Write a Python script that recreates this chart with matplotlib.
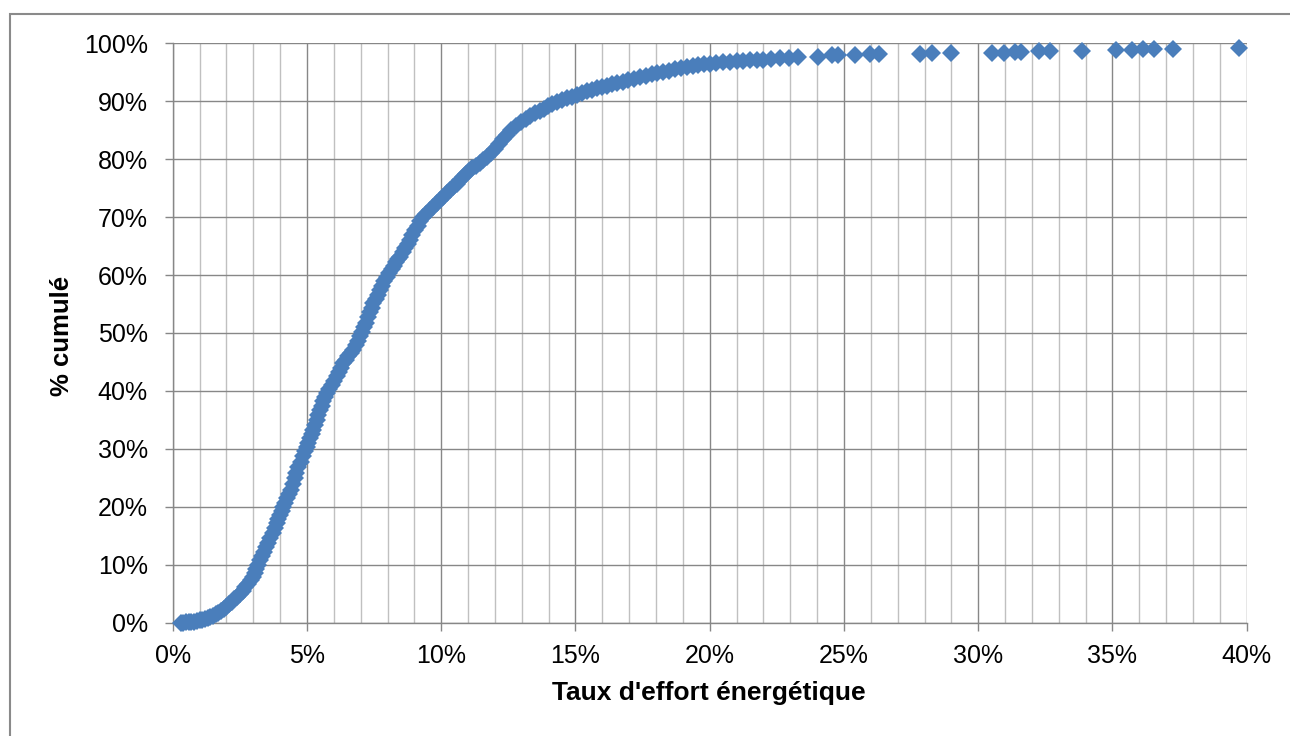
import matplotlib
matplotlib.use('Agg')
import matplotlib.pyplot as plt
from matplotlib.patches import Rectangle
from matplotlib.ticker import MultipleLocator, FuncFormatter

plt.rcParams['font.family'] = ['Liberation Sans', 'DejaVu Sans']

# Cumulative share (%) vs energy effort rate (%)
taux = [0.30, 0.40, 0.50, 0.60, 0.70, 0.80, 0.90, 1.00, 1.10, 1.20, 1.30, 1.40, 1.50, 1.60, 1.70,
        1.80, 1.90, 2.00, 2.10, 2.20, 2.30, 2.40, 2.50, 2.60, 2.70, 2.80, 2.90, 3.00, 3.06, 3.12,
        3.18, 3.25, 3.32, 3.40, 3.48, 3.56, 3.64, 3.72, 3.80, 3.87, 3.93, 4.00, 4.06, 4.12, 4.19,
        4.26, 4.33, 4.40, 4.47, 4.54, 4.61, 4.68, 4.76, 4.84, 4.92, 4.99, 5.05, 5.11, 5.17, 5.24,
        5.30, 5.36, 5.43, 5.49, 5.55, 5.61, 5.67, 5.73, 5.83, 5.92, 6.02, 6.11, 6.19, 6.27, 6.35,
        6.45, 6.54, 6.64, 6.73, 6.81, 6.90, 6.98, 7.05, 7.12, 7.19, 7.27, 7.35, 7.41, 7.47, 7.56,
        7.64, 7.72, 7.80, 7.88, 7.97, 8.06, 8.15, 8.23, 8.31, 8.39, 8.47, 8.56, 8.66, 8.75, 8.84,
        8.93, 9.03, 9.12, 9.22, 9.33, 9.45, 9.57, 9.70, 9.83, 9.95, 10.08, 10.20, 10.32, 10.45,
        10.57, 10.70, 10.81, 10.92, 11.04, 11.15, 11.29, 11.43, 11.56, 11.70, 11.85, 12.00, 12.15,
        12.30, 12.45, 12.60, 12.78, 12.96, 13.14, 13.32, 13.50, 13.68,
        13.83, 13.99, 14.14, 14.30, 14.49, 14.67, 14.86, 15.05, 15.24, 15.42, 15.61, 15.79, 15.98,
        16.17, 16.35, 16.54, 16.76, 16.97, 17.19, 17.40, 17.62, 17.84, 18.05, 18.27, 18.49, 18.70,
        18.92, 19.14, 19.36, 19.57, 19.79, 20.00, 20.25, 20.50, 20.75, 21.00, 21.25, 21.50, 21.75,
        22.00, 22.30, 22.60, 22.95, 23.30,
        24.05, 24.54, 24.79, 25.42, 25.98, 26.31, 27.82, 28.28, 28.97, 30.50, 30.96, 31.38, 31.59,
        32.26, 32.67, 33.85, 35.15, 35.71, 36.13, 36.55, 37.25, 39.72]
cumul = [0.0, 0.0, 0.1, 0.1, 0.2, 0.2, 0.3, 0.4, 0.5, 0.7, 0.8, 1.0, 1.2, 1.5, 1.7,
         2.0, 2.3, 2.7, 3.2, 3.6, 4.1, 4.5, 5.0, 5.5, 6.1, 6.6, 7.3, 7.9, 8.6, 9.3,
         10.0, 10.8, 11.5, 12.2, 13.0, 13.7, 14.6, 15.5, 16.3, 17.2, 17.9, 18.6, 19.3, 20.0, 20.7,
         21.5, 22.2, 22.9, 23.9, 24.9, 25.9, 26.9, 27.8, 28.7, 29.6, 30.4, 31.1, 31.9, 32.6, 33.3,
         34.2, 35.0, 35.9, 36.7, 37.4, 38.2, 38.9, 39.6, 40.3, 41.1, 41.8, 42.5, 43.3, 44.0, 44.8,
         45.4, 46.0, 46.6, 47.1, 47.9, 48.6, 49.4, 50.2, 51.0, 51.8, 52.7, 53.6, 54.4, 55.1, 55.9,
         56.6, 57.4, 58.1, 58.9, 59.7, 60.4, 61.0, 61.6, 62.2, 62.7, 63.2, 63.9, 64.6, 65.4, 66.1,
         66.9, 67.7, 68.5, 69.3, 70.0, 70.6, 71.2, 71.8, 72.4, 72.9, 73.5, 74.1, 74.7, 75.2,
         75.8, 76.4, 76.9, 77.4, 77.9, 78.4, 78.9, 79.4, 79.9, 80.4, 81.1, 81.8, 82.6,
         83.4, 84.2, 85.0, 85.7, 86.4, 87.0, 87.5, 87.9, 88.3,
         88.7, 89.1, 89.5, 89.9, 90.2, 90.5, 90.8, 91.1, 91.4, 91.7, 91.9, 92.2, 92.4,
         92.7, 92.9, 93.1, 93.4, 93.7, 93.9, 94.2, 94.4, 94.7, 94.9, 95.1, 95.3, 95.5,
         95.7, 95.9, 96.1, 96.2, 96.4, 96.5, 96.6, 96.7, 96.8, 96.9, 97.0, 97.05, 97.1,
         97.2, 97.3, 97.4, 97.5, 97.6,
         97.7, 98.0, 97.9, 98.0, 98.1, 98.15, 98.15, 98.3, 98.3, 98.3, 98.4, 98.5, 98.5,
         98.6, 98.6, 98.7, 98.85, 98.85, 98.95, 98.95, 99.1, 99.15]

x_ticks = [0, 5, 10, 15, 20, 25, 30, 35, 40]
y_ticks = [0, 10, 20, 30, 40, 50, 60, 70, 80, 90, 100]

BLUE = '#4A7EBB'
DARK = '#878787'
LIGHT = '#C0C0C0'

fig = plt.figure(figsize=(12.9, 7.36), dpi=100)
ax = fig.add_axes([172.7 / 1290, 1 - 622.7 / 736, (1246.7 - 172.7) / 1290, (622.7 - 43.3) / 736])

# outer chart border (only left/top visible in the reference)
fig.patches.append(Rectangle((10 / 1290, -0.05), 1.2, 1.05 - 14 / 736, transform=fig.transFigure,
                             fill=False, edgecolor='#8A8A8A', linewidth=1.5))

ax.set_xlim(0, 40)
ax.set_ylim(0, 100)
ax.set_xticks(x_ticks)
ax.set_yticks(y_ticks)
ax.xaxis.set_minor_locator(MultipleLocator(1))
ax.xaxis.set_major_formatter(FuncFormatter(lambda v, p: f'{v:.0f}%'))
ax.yaxis.set_major_formatter(FuncFormatter(lambda v, p: f'{v:.0f}%'))

ax.set_axisbelow(True)
ax.grid(which='minor', axis='x', color=LIGHT, linewidth=1.0)
ax.grid(which='major', axis='x', color=DARK, linewidth=1.0)
ax.grid(which='major', axis='y', color=DARK, linewidth=1.0)

for side in ['top', 'right']:
    ax.spines[side].set_visible(False)
for side in ['left', 'bottom']:
    ax.spines[side].set_color(DARK)
    ax.spines[side].set_linewidth(1.0)

ax.tick_params(axis='x', which='major', direction='out', length=6, width=1, color=DARK,
               labelsize=18, pad=9)
ax.tick_params(axis='x', which='minor', length=0)
ax.tick_params(axis='y', which='major', direction='out', length=6, width=1, color=DARK,
               labelsize=18, pad=12)

ax.plot(taux, cumul, linestyle='none', marker='D', markersize=9, color=BLUE,
        markeredgewidth=0, clip_on=False, zorder=3)

fig.text(709 / 1290, 1 - 693 / 736, "Taux d'effort énergétique", ha='center', va='center',
         fontsize=19, fontweight='bold')
fig.text(62 / 1290, 1 - 336 / 736, '% cumulé', ha='center', va='center', rotation=90,
         fontsize=18.5, fontweight='bold')

fig.savefig('out.png', dpi=100)
plt.close(fig)
